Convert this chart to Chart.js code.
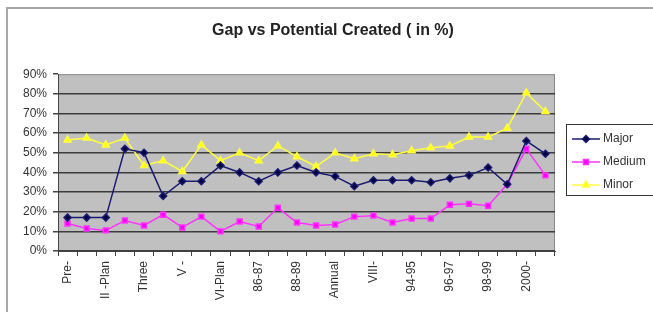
<!DOCTYPE html>
<html>
<head>
<meta charset="utf-8">
<script src="https://cdn.jsdelivr.net/npm/chart.js@4/dist/chart.umd.min.js"></script>
<style>
    html, body { margin: 0; padding: 0; background: #fff; }
    #wrap { position: relative; width: 653px; height: 312px; }
    #frame {
        position: absolute; left: 6px; top: 7px; right: 0; bottom: 0;
        border-left: 2px solid #a8a8a8; border-top: 2px solid #a8a8a8;
        pointer-events: none;
    }
    canvas { position: absolute; left: 0; top: 0; }
</style>
</head>
<body>
<div id="wrap">
    <canvas id="gapChart" width="653" height="312"></canvas>
    <div id="frame"></div>
</div>
<script>
// periods on the x axis (only every other one is labelled in the original)
const periods = ['Pre-', 'I -Plan', 'II -Plan', 'III -Plan', 'Three', 'IV -Plan', 'V -', 'Annual ',
    'VI-Plan', '85-86', '86-87', '87-88', '88-89', '89-90', 'Annual', '92-93', 'VIII-',
    '93-94', '94-95', '95-96', '96-97', '97-98', '98-99', '99-00', '2000-', '2001-'];

const major  = [17, 17, 17, 52, 50, 28, 35.5, 35.5, 43.5, 40, 35.5, 40, 43.5, 40,
    38, 33, 36, 36, 36, 35, 37, 38.5, 42.5, 34, 56, 49.5];
const medium = [14, 11.5, 10.5, 15.5, 13, 18.5, 12, 17.5, 10, 15, 12.5, 22, 14.5, 13,
    13.5, 17.5, 18, 14.5, 16.5, 16.5, 23.5, 24, 23, 34, 52, 38.5];
const minor  = [56.5, 57.5, 54, 57.5, 43.5, 46, 40.5, 54, 46, 50, 46, 53.5, 48, 43,
    50, 47, 49.5, 49, 51, 52.5, 53.5, 58, 58, 62.5, 80.5, 71];

const yTicks = [0, 10, 20, 30, 40, 50, 60, 70, 80, 90];

const FONT = 'Liberation Sans, Arial, sans-serif';

// gray plot area like the old Excel default
const plotBg = {
    id: 'plotBg',
    beforeDraw(chart) {
        const { ctx, chartArea: a } = chart;
        ctx.save();
        ctx.fillStyle = '#c0c0c0';
        ctx.fillRect(a.left, a.top, a.right - a.left, a.bottom - a.top);
        ctx.strokeStyle = '#8a8a8a';
        ctx.lineWidth = 1;
        ctx.strokeRect(a.left + 0.5, a.top + 0.5, a.right - a.left - 1, a.bottom - a.top - 1);
        ctx.restore();
    }
};

// boxed legend at the right, drawn from the datasets
const boxLegend = {
    id: 'boxLegend',
    afterDraw(chart) {
        const ctx = chart.ctx;
        const x = 566, y = 124, w = 95, h = 71;
        ctx.save();
        ctx.fillStyle = '#fff';
        ctx.fillRect(x, y, w, h);
        ctx.strokeStyle = '#333';
        ctx.lineWidth = 1;
        ctx.strokeRect(x + 0.5, y + 0.5, w, h);
        ctx.font = '12px ' + FONT;
        ctx.textBaseline = 'middle';
        chart.data.datasets.forEach((ds, i) => {
            const cy = 139 + i * 23;
            ctx.strokeStyle = ds.borderColor;
            ctx.lineWidth = 1.5;
            ctx.beginPath();
            ctx.moveTo(572, cy);
            ctx.lineTo(600, cy);
            ctx.stroke();
            ctx.fillStyle = ds.pointBackgroundColor;
            ctx.strokeStyle = ds.borderColor;
            Chart.helpers.drawPoint(ctx, {
                pointStyle: ds.pointStyle, radius: ds.pointRadius, borderWidth: 1
            }, 586, cy);
            ctx.fillStyle = '#333';
            ctx.fillText(ds.label, 603, cy);
        });
        ctx.restore();
    }
};

new Chart(document.getElementById('gapChart'), {
    type: 'line',
    data: {
        labels: periods,
        datasets: [
            { label: 'Major', data: major, borderColor: '#1a1a70', backgroundColor: '#000040',
              pointBackgroundColor: '#000040', pointStyle: 'rectRot', pointRadius: 3.5, borderWidth: 1.5 },
            { label: 'Medium', data: medium, borderColor: '#ff33ff', backgroundColor: '#ff00ff',
              pointBackgroundColor: '#ff00ff', pointStyle: 'rect', pointRadius: 3.5, borderWidth: 1.5 },
            { label: 'Minor', data: minor, borderColor: '#ffff40', backgroundColor: '#ffff00',
              pointBackgroundColor: '#ffff00', pointStyle: 'triangle', pointRadius: 4, borderWidth: 1.5 }
        ]
    },
    options: {
        responsive: false,
        animation: false,
        layout: { padding: { left: 13, right: 0, top: 0, bottom: 0 } },
        elements: { line: { tension: 0 }, point: { borderWidth: 1 } },
        plugins: {
            legend: { display: false },
            tooltip: { enabled: false },
            title: {
                display: true,
                text: 'Gap vs Potential Created ( in %)',
                color: '#222',
                font: { family: FONT, size: 16, weight: 'bold' },
                padding: { top: 21, bottom: 34 }
            }
        },
        scales: {
            x: {
                offset: true,
                grid: { offset: true, drawOnChartArea: false, color: '#444', tickLength: 5 },
                border: { color: '#444', width: 1 },
                ticks: {
                    autoSkip: false, minRotation: 90, maxRotation: 90, padding: 5,
                    color: '#333', font: { family: FONT, size: 12 },
                    callback: (v, i) => (i % 2 === 0 ? periods[i] : '')
                },
                afterFit: s => { s.height = 61; }
            },
            y: {
                min: 0, max: 90,
                afterBuildTicks: s => { s.ticks = yTicks.map(v => ({ value: v })); },
                grid: {
                    color: c => (c.tick && c.tick.value === 90 ? 'rgba(0,0,0,0)' : '#3c3c3c'),
                    lineWidth: 1.5, tickLength: 5, tickColor: '#444'
                },
                border: { color: '#444', width: 1 },
                ticks: {
                    padding: 6, color: '#333', font: { family: FONT, size: 12 },
                    callback: v => v + '%'
                },
                afterFit: s => { s.width = 45; }
            },
            // empty right-hand axis that reserves room for the legend box
            yRight: {
                position: 'right',
                display: true,
                grid: { display: false },
                border: { display: false },
                ticks: { display: false },
                afterFit: s => { s.width = 98; }
            }
        }
    },
    plugins: [plotBg, boxLegend]
});
</script>
</body>
</html>
